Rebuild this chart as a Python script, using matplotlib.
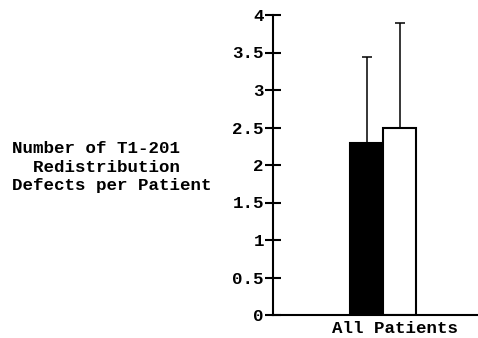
import matplotlib
matplotlib.use("Agg")
import matplotlib.pyplot as plt
import numpy as np

category = ["All Patients"]
series_names = ["Group A", "Group B"]
means = [2.3, 2.5]
err_upper = [1.14, 1.40]
bar_colors = ["black", "white"]
yticks = [0, 0.5, 1, 1.5, 2, 2.5, 3, 3.5, 4]
ytick_labels = ["0", "0.5", "1", "1.5", "2", "2.5", "3", "3.5", "4"]
ylabel_lines = ["Number of T1-201", "  Redistribution", "Defects per Patient"]

FONT = "Liberation Mono"
plt.rcParams["font.family"] = [FONT, "DejaVu Sans Mono"]
plt.rcParams["font.weight"] = "bold"

fig = plt.figure(figsize=(4.78, 3.38), dpi=100)
ax = fig.add_axes([273/478, 1-315/338, 1-273/478, (315-15)/338])

width = 0.33
offsets = [-width/2, width/2]
for i, (m, e, c) in enumerate(zip(means, err_upper, bar_colors)):
    x = 0 + offsets[i]
    ax.bar(x, m, width=width, color=c, edgecolor="black", linewidth=1.5, zorder=2)
    ax.errorbar(x, m, yerr=[[0], [e]], fmt="none", ecolor="black",
                elinewidth=1.1, capsize=3.6, capthick=1.1, zorder=1)

ax.set_xlim(-1.10, 0.95)
ax.set_ylim(0, 4)
ax.set_yticks(yticks)
ax.set_yticklabels(ytick_labels, fontsize=12.6, fontweight="bold")
ax.set_xticks([0.12])
ax.set_xticklabels(category, fontsize=12.6, fontweight="bold")
ax.tick_params(axis="x", length=0, pad=4)
ax.tick_params(axis="y", direction="inout", length=12, width=1.5, pad=0.5)
for s in ["top", "right"]:
    ax.spines[s].set_visible(False)
for s in ["left", "bottom"]:
    ax.spines[s].set_linewidth(1.5)
ax.spines["bottom"].set_bounds(-1.10, 0.95)

fig.text(12/478, 1-167/338, "\n".join(ylabel_lines), ha="left", va="center",
         fontsize=12.6, fontweight="bold", linespacing=1.28)

fig.savefig("out.png", dpi=100)
